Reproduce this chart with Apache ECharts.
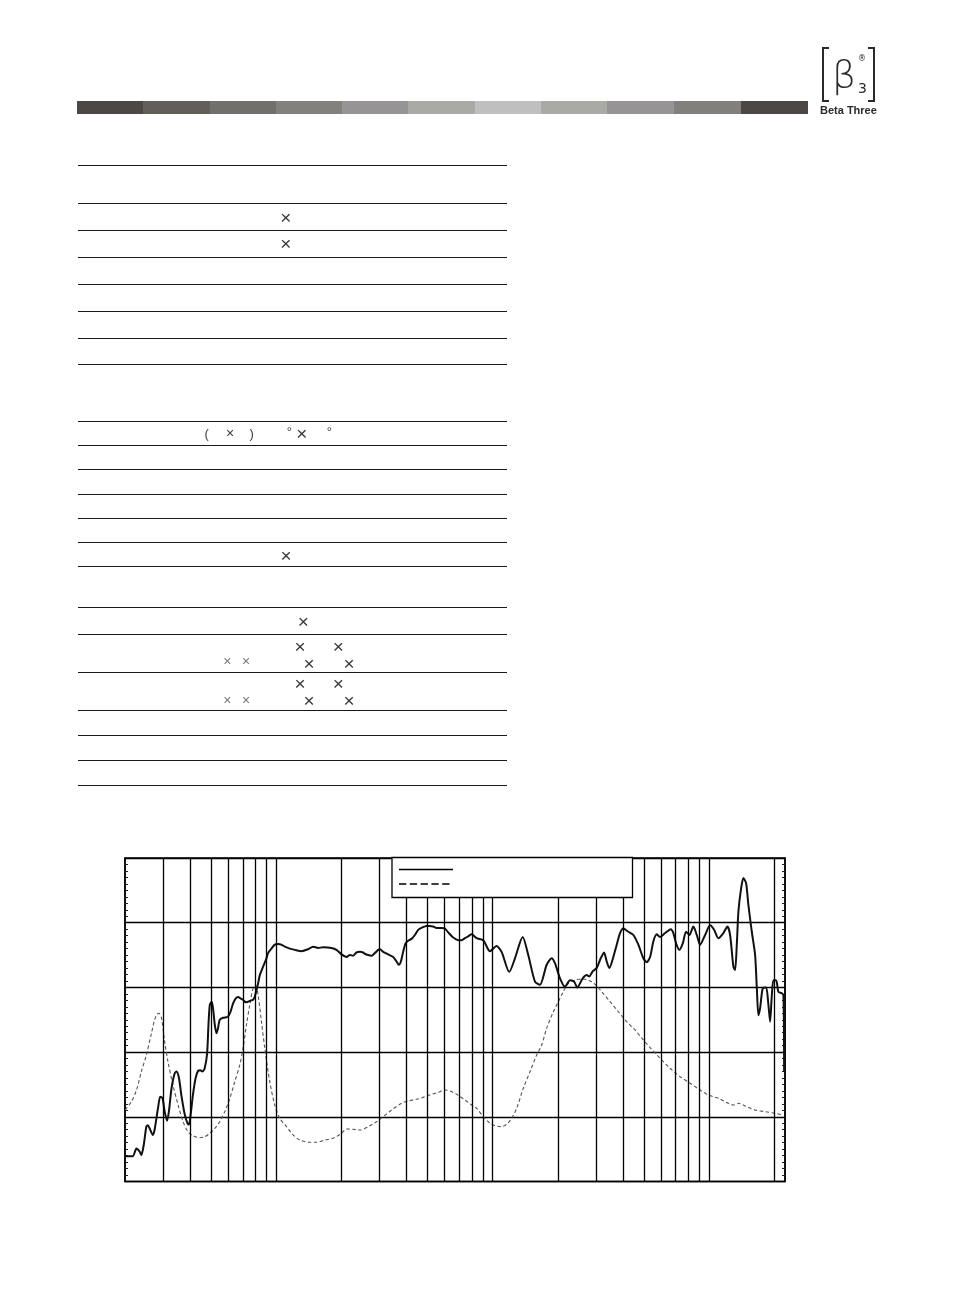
<!DOCTYPE html>
<html><head><meta charset="utf-8">
<script src="https://cdn.jsdelivr.net/npm/echarts@6/dist/echarts.min.js"></script>
<style>
html,body{margin:0;padding:0;background:#fff;}
body{width:954px;height:1294px;position:relative;overflow:hidden;font-family:"Liberation Sans",Arial,sans-serif;}
#chart{position:absolute;left:0;top:0;width:954px;height:1294px;z-index:0;}
.seg{position:absolute;top:101px;height:13px;z-index:1;}
.rule{position:absolute;left:78px;width:429px;height:1.3px;background:#1a1a1a;z-index:1;}
.sym{position:absolute;transform:translate(-50%,-50%);color:#3a3a3a;line-height:1;z-index:1;white-space:nowrap;}
.big{font-size:19px;}
.mid{font-size:14px;}
.par{font-size:13px;}
.sm{font-size:14px;color:#777;}
.brk{position:absolute;top:47px;width:5px;height:51px;border:2px solid #2a2a2a;z-index:1;}
.brk.l{left:822px;border-right:none;}
.brk.r{left:868px;border-left:none;}
.logo-t{position:absolute;z-index:1;color:#2a2a2a;line-height:1;white-space:nowrap;}
</style></head>
<body>
<div id="chart"></div>

<!-- logo -->
<div class="brk l"></div><div class="brk r"></div>
<div class="logo-t" style="left:832px;top:55px;font-family:'DejaVu Sans';font-weight:200;font-size:38px;">β</div>
<div class="logo-t" style="left:858px;top:81px;font-family:'DejaVu Sans';font-size:14px;">3</div>
<div class="logo-t" style="left:858px;top:55px;font-family:'DejaVu Sans';font-size:8px;">®</div>
<div class="logo-t" style="left:820px;top:105px;font-family:'Liberation Sans';font-weight:bold;font-size:11px;">Beta Three</div>

<!-- gray bar -->
<div class="seg" style="left:77px;width:66px;background:#4d4846"></div>
<div class="seg" style="left:143px;width:67px;background:#625e5a"></div>
<div class="seg" style="left:210px;width:66px;background:#72706d"></div>
<div class="seg" style="left:276px;width:66px;background:#83817e"></div>
<div class="seg" style="left:342px;width:66px;background:#969495"></div>
<div class="seg" style="left:408px;width:67px;background:#a9aaa5"></div>
<div class="seg" style="left:475px;width:66px;background:#c0bfbf"></div>
<div class="seg" style="left:541px;width:66px;background:#a9aaa5"></div>
<div class="seg" style="left:607px;width:67px;background:#969495"></div>
<div class="seg" style="left:674px;width:67px;background:#82807d"></div>
<div class="seg" style="left:741px;width:67px;background:#4d4846"></div>

<!-- table rules -->
<div class="rule" style="top:164.7px"></div>
<div class="rule" style="top:202.7px"></div>
<div class="rule" style="top:229.7px"></div>
<div class="rule" style="top:256.7px"></div>
<div class="rule" style="top:283.7px"></div>
<div class="rule" style="top:310.7px"></div>
<div class="rule" style="top:337.7px"></div>
<div class="rule" style="top:363.7px"></div>
<div class="rule" style="top:420.7px"></div>
<div class="rule" style="top:444.7px"></div>
<div class="rule" style="top:468.7px"></div>
<div class="rule" style="top:493.7px"></div>
<div class="rule" style="top:517.7px"></div>
<div class="rule" style="top:541.7px"></div>
<div class="rule" style="top:565.7px"></div>
<div class="rule" style="top:606.7px"></div>
<div class="rule" style="top:633.7px"></div>
<div class="rule" style="top:671.7px"></div>
<div class="rule" style="top:709.7px"></div>
<div class="rule" style="top:734.7px"></div>
<div class="rule" style="top:759.7px"></div>
<div class="rule" style="top:784.7px"></div>

<!-- symbols -->
<div class="sym big" style="left:285.7px;top:216.7px">×</div>
<div class="sym big" style="left:285.7px;top:243.3px">×</div>
<div class="sym par" style="left:206.7px;top:432.5px">(</div>
<div class="sym mid" style="left:230px;top:433px">×</div>
<div class="sym par" style="left:251.7px;top:432.5px">)</div>
<div class="sym par" style="left:289.3px;top:431px">°</div>
<div class="sym big" style="left:301.7px;top:433px">×</div>
<div class="sym par" style="left:329.3px;top:431px">°</div>
<div class="sym big" style="left:286px;top:555px">×</div>
<div class="sym big" style="left:303.3px;top:620.7px">×</div>
<div class="sym big" style="left:300px;top:646px">×</div>
<div class="sym big" style="left:338.3px;top:646px">×</div>
<div class="sym sm" style="left:227.3px;top:660.7px">×</div>
<div class="sym sm" style="left:246px;top:660.7px">×</div>
<div class="sym big" style="left:309px;top:663.3px">×</div>
<div class="sym big" style="left:349px;top:663.3px">×</div>
<div class="sym big" style="left:300px;top:682.7px">×</div>
<div class="sym big" style="left:338.3px;top:682.7px">×</div>
<div class="sym sm" style="left:227.3px;top:700px">×</div>
<div class="sym sm" style="left:246px;top:700px">×</div>
<div class="sym big" style="left:309px;top:700.3px">×</div>
<div class="sym big" style="left:349px;top:700.3px">×</div>

<script>
// ---- data (Hz / dB SPL / Ohm) ----
const respFreq = [20,21.7,22.6,23.4,23.8,24.4,25.1,25.5,26.0,26.9,27.4,28.4,29.1,29.8,30.5,31.3,31.9,32.8,33.9,34.6,35.5,36.4,37.8,38.9,39.5,40.2,41.2,42.4,43.5,44.6,45.6,46.7,47.9,48.6,49.3,50.3,51.0,52.0,52.9,53.8,54.8,56.8,58.9,59.9,61.4,63.1,65.0,66.6,68.3,70.2,71.5,72.8,75.4,78.1,79.6,81.0,82.4,83.9,86.9,90.1,91.6,95.0,98.4,102,105.7,109.5,115.4,121.8,130.8,140.3,148.0,156.1,164.6,179.9,189.8,200.2,211.2,218.7,226.5,234.9,243.2,251.9,256.5,265.7,275.5,285.4,295.6,301,311.8,328.8,346.7,359.5,368.4,376.3,385.6,395.6,406.7,421.7,436.8,452.4,469.1,494.7,512.4,530.7,550.2,580.3,601.2,622.7,656.8,692.7,718.2,743.9,770.5,798.9,842.7,903.8,970.7,1042,1099,1192,1267,1375,1459,1567,1653,1775,1872,1940,2045,2157,2275,2374,2459,2604,2717,2793,2896,3022,3154,3267,3362,3456,3607,3740,3874,4012,4231,4463,4707,4964,5145,5333,5521,5724,5929,6254,6645,6831,7031,7282,7551,7821,8100,8453,8764,9077,9574,10097,10536,11027,11631,12137,12491,12938,13173,13414,13646,14044,14391,14811,15177,15736,16299,16596,16881,17191,17692,18325,18778,19120,19470,19805,20383,20887,21656,22029,22192];
const respDb = [53.9,53.9,55.1,54.6,54.1,55.6,58.5,58.7,58.2,57.2,58.0,61.3,63.1,62.9,60.8,59.4,60.8,64.4,66.7,67.0,66.0,63.4,60.3,59.0,58.8,60.3,63.4,66.0,67.1,67.2,67.0,67.5,69.8,74.2,77.3,77.8,76.8,74.2,72.9,73.7,75.0,75.3,75.4,75.5,76.2,77.5,78.3,78.5,78.3,78.1,77.8,77.7,77.9,78.1,78.6,79.6,80.6,81.9,83.2,84.5,85.3,86.0,86.6,86.7,86.6,86.3,86.0,85.8,85.6,85.9,86.3,86.1,86.2,86.1,85.8,85.1,84.7,85.0,84.9,85.4,85.5,85.4,85.2,85.0,84.9,85.3,85.8,85.9,85.5,85.1,84.7,84.0,83.5,84.0,85.5,86.8,87.2,87.5,88.1,88.9,89.2,89.5,89.5,89.4,89.2,89.2,89.1,88.5,87.7,87.3,87.3,87.6,87.9,88.2,87.6,87.3,85.6,86.4,85.5,82.4,84.5,87.8,85.0,80.9,80.4,83.5,84.5,83.7,81.4,80.1,81.1,80.9,80.0,81.4,81.9,81.7,82.5,83.0,84.5,85.4,84.0,83.0,84.7,86.6,88.4,89.1,88.6,88.1,86.6,84.5,83.9,84.7,87.1,88.2,87.8,88.4,89.0,88.4,86.8,85.8,86.8,88.6,88.1,89.4,88.1,86.6,88.1,89.6,88.9,87.6,88.4,89.4,88.1,83.2,82.7,86.6,91.7,95.3,96.9,96.1,92.7,88.6,85.0,79.9,75.7,76.8,79.9,80.0,77.3,74.7,78.8,81.1,81.1,79.3,79.1,78.8,67.0];

const impFreq = [20,21.4,22.6,23.8,25.1,26.5,27.4,28.1,28.7,29.5,30.5,31.6,33.3,35.2,37.1,39.1,41.2,44.3,46.7,49.3,52.0,54.8,57.8,61.0,64.3,67.8,70.2,72.8,75.4,78.1,80.4,82.4,85.4,88.5,93.3,98.4,103.8,111.5,119.6,128.4,142.8,153.4,167.6,183.0,200.2,211.2,226.5,243.2,265.7,290.6,311.8,341.0,379.2,406.7,444.9,486.0,521.8,559.8,601.2,634.0,680.9,743.9,798.9,842.7,903.8,970.7,1024,1099,1160,1223,1290,1384,1486,1596,1683,1775,1905,2009,2118,2234,2399,2576,2764,2969,3188,3483,3804,4159,4544,4964,5333,5929,6596,7338,8162,9077,9915,11027,12267,12938,13646,14921,16299,18129,20171,22029];
const impOhm = [11.05,12.33,14.14,16.97,19.55,22.91,24.96,25.84,26.00,25.22,21.61,18.52,14.92,11.82,9.24,7.70,7.08,6.77,6.92,7.45,8.22,9.24,10.79,12.86,15.43,18.01,20.59,24.19,27.28,29.86,30.26,28.83,24.70,20.59,15.43,11.82,9.77,8.47,7.19,6.41,6.06,6.06,6.41,6.68,7.45,8.11,8.07,7.96,8.47,9.24,10.02,11.05,12.09,12.44,12.70,13.11,13.48,13.79,14.14,13.99,13.48,12.60,11.82,11.31,10.02,9.00,8.62,8.47,8.84,9.77,11.31,14.41,16.97,19.55,21.10,23.68,26.24,27.79,29.34,30.63,31.14,31.30,31.14,30.48,29.34,27.79,26.24,24.70,23.42,21.87,20.7,19.04,17.50,16.20,15.18,14.14,13.37,12.86,12.09,11.82,12.09,11.56,11.05,10.79,10.54,10.28];

// vertical grid frequencies (Hz)
const gridFreqs = [30,40,50,60,70,80,90,100,200,300,400,500,600,700,800,900,1000,2000,3000,4000,5000,6000,7000,8000,9000,10000,20000];

const chart = echarts.init(document.getElementById('chart'));
const respData = respFreq.map((f, i) => [f, respDb[i]]);
const impData = impFreq.map((f, i) => [f, impOhm[i]]);

chart.setOption({
  animation: false,
  grid: { left: 125, top: 858, width: 660, height: 323.5, show: true, borderColor: '#000', borderWidth: 1.5, backgroundColor: 'transparent' },
  xAxis: { type: 'log', logBase: 10, min: 20, max: 22400,
    axisLabel: { show: false }, axisTick: { show: false }, axisLine: { show: false }, splitLine: { show: false } },
  yAxis: [
    { type: 'value', min: 50, max: 100, interval: 10, position: 'left',
      axisLabel: { show: false },
      axisLine: { show: true, lineStyle: { color: '#000', width: 1.5 } },
      axisTick: { show: true, inside: true, length: 3, lineStyle: { color: '#000', width: 1 } },
      minorTick: { show: true, splitNumber: 10, length: 3, lineStyle: { color: '#222', width: 1 } },
      splitLine: { show: true, lineStyle: { color: '#000', width: 1.3 } } },
    { type: 'value', min: 0, max: 50, interval: 10, position: 'right',
      axisLabel: { show: false },
      axisLine: { show: true, lineStyle: { color: '#000', width: 1.5 } },
      axisTick: { show: true, inside: true, length: 3, lineStyle: { color: '#000', width: 1 } },
      minorTick: { show: true, splitNumber: 10, length: 3, lineStyle: { color: '#222', width: 1 } },
      splitLine: { show: false } }
  ],
  series: [
    { type: 'line', name: 'grid', data: [], z: 1, silent: true,
      markLine: { silent: true, symbol: 'none', animation: false,
        label: { show: false }, emphasis: { disabled: true },
        lineStyle: { color: '#000', width: 1.3, type: 'solid' },
        data: gridFreqs.map(f => ({ xAxis: f })) } },
    { type: 'line', name: 'Impedance', yAxisIndex: 1, data: impData, symbol: 'none', smooth: 0.3, z: 3,
      lineStyle: { color: '#555', width: 1.1, type: [3.5, 2.5] } },
    { type: 'line', name: 'Frequency Response', yAxisIndex: 0, data: respData, symbol: 'none', smooth: 0.25, z: 4,
      lineStyle: { color: '#111', width: 2 } }
  ],
  graphic: [
    { type: 'rect', z: 100, shape: { x: 392, y: 857.5, width: 240.5, height: 40 },
      style: { fill: '#fff', stroke: '#000', lineWidth: 1.3 } },
    { type: 'line', z: 101, shape: { x1: 399, y1: 869.5, x2: 453, y2: 869.5 },
      style: { stroke: '#000', lineWidth: 1.3 } },
    { type: 'line', z: 101, shape: { x1: 399, y1: 884, x2: 453, y2: 884 },
      style: { stroke: '#000', lineWidth: 1.3, lineDash: [7.3, 3.5] } }
  ]
});
</script>
</body></html>
